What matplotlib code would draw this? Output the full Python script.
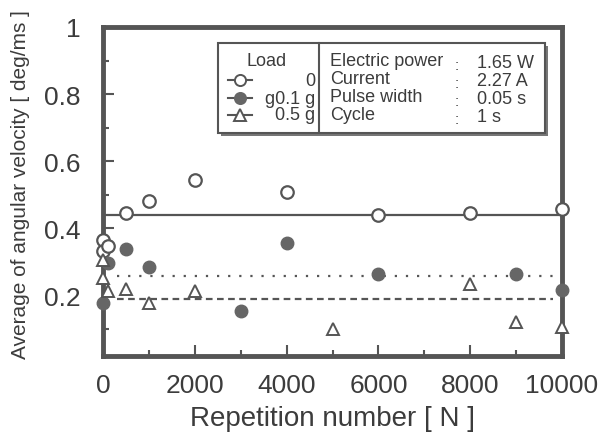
import matplotlib
matplotlib.use("Agg")
import matplotlib.pyplot as plt
from matplotlib.patches import Rectangle
from matplotlib.lines import Line2D
from matplotlib.ticker import MultipleLocator

plt.rcParams['font.family'] = ['Liberation Sans', 'DejaVu Sans']

# Data
n_load0 = [0, 0, 100, 500, 1000, 2000, 4000, 6000, 8000, 10000]
v_load0 = [0.366, 0.332, 0.349, 0.446, 0.483, 0.543, 0.510, 0.439, 0.446, 0.458]

n_load01 = [0, 100, 500, 1000, 3000, 4000, 6000, 9000, 10000]
v_load01 = [0.178, 0.297, 0.338, 0.286, 0.153, 0.358, 0.263, 0.263, 0.216]

n_load05 = [0, 0, 100, 500, 1000, 2000, 5000, 8000, 9000, 10000]
v_load05 = [0.307, 0.253, 0.214, 0.219, 0.178, 0.214, 0.099, 0.234, 0.120, 0.107]

mean_load0 = 0.440
mean_load01 = 0.258
mean_load05 = 0.190
mean_x0 = [0, 10000]
mean_x01 = [300, 9800]
mean_x05 = [300, 9800]

legend_loads = ["0", "g0.1 g", "0.5 g"]
cond_names = ["Electric power", "Current", "Pulse width", "Cycle"]
cond_values = ["1.65 W", "2.27 A", "0.05 s", "1 s"]

GRAY = "#555555"
TXT = "#3c3c3c"

W, H = 603, 439
fig = plt.figure(figsize=(W / 100, H / 100), dpi=100)
ax = fig.add_axes([103 / W, 1 - 357 / H, (562 - 103) / W, (357 - 28) / H])

ax.plot(mean_x0, [mean_load0] * 2, color=GRAY, lw=1.6, zorder=2)
ax.plot(mean_x01, [mean_load01] * 2, color=GRAY, lw=1.6, ls=(0, (1, 4)), zorder=2)
ax.plot(mean_x05, [mean_load05] * 2, color=GRAY, lw=1.6, ls=(0, (3, 2)), zorder=2)

ax.plot(n_load0, v_load0, ls='none', marker='o', ms=9, mfc='white', mec=GRAY, mew=1.6, zorder=3, clip_on=False)
ax.plot(n_load01, v_load01, ls='none', marker='o', ms=9, mfc='#666666', mec='#666666', mew=1.0, zorder=3, clip_on=False)
ax.plot(n_load05, v_load05, ls='none', marker='^', ms=9, mfc='white', mec=GRAY, mew=1.4, zorder=4, clip_on=False)

ax.set_xlim(0, 10000)
ax.set_ylim(0.02, 1.0)
ax.set_xticks([0, 2000, 4000, 6000, 8000, 10000])
ax.set_yticks([0.2, 0.4, 0.6, 0.8, 1.0])
ax.set_yticklabels(["0.2", "0.4", "0.6", "0.8", "1"])
ax.xaxis.set_minor_locator(MultipleLocator(1000))
ax.yaxis.set_minor_locator(MultipleLocator(0.1))
ax.tick_params(which='both', direction='in', color=GRAY, width=1.5, labelsize=19, labelcolor=TXT)
ax.tick_params(which='major', length=8)
ax.tick_params(which='minor', length=4)
ax.tick_params(axis='y', pad=16)
ax.tick_params(axis='x', pad=12)
for s in ax.spines.values():
    s.set_color(GRAY)
    s.set_linewidth(3.5)

ax.set_xlabel("Repetition number [ N ]", fontsize=20, color=TXT, labelpad=6)
ax.set_ylabel("Average of angular velocity [ deg/ms ]", fontsize=15, color=TXT)
ax.yaxis.set_label_coords((30 - 103) / 459, (357 - 185) / 329)

# Legend box (figure pixel coordinates)
def fx(x):
    return x / W

def fy(y):
    return 1 - y / H

fig.add_artist(Rectangle((fx(221), fy(137)), (548 - 221) / W, (137 - 47) / H,
                         transform=fig.transFigure, facecolor='#777777', edgecolor='none', zorder=5))
fig.add_artist(Rectangle((fx(218), fy(134)), (545 - 218) / W, (134 - 44) / H,
                         transform=fig.transFigure, facecolor='white', edgecolor=GRAY, lw=1.5, zorder=6))
fig.add_artist(Line2D([fx(319), fx(319)], [fy(44), fy(134)], transform=fig.transFigure,
                      color=GRAY, lw=1.5, zorder=7))

fig.text(fx(267), fy(62), "Load", fontsize=13, color=TXT, ha='center', va='center', zorder=8)
row_y = [81, 99, 116]
styles = [dict(marker='o', mfc='white', mec=GRAY), dict(marker='o', mfc='#666666', mec='#666666'),
          dict(marker='^', mfc='white', mec=GRAY)]
for yy, lab, st in zip(row_y, legend_loads, styles):
    fig.add_artist(Line2D([fx(228), fx(240), fx(252)], [fy(yy)] * 3, transform=fig.transFigure,
                          color=GRAY, lw=1.5, ms=8, mew=1.4, markevery=[1], zorder=8, **st))
    fig.text(fx(315), fy(yy), lab, fontsize=13, color=TXT, ha='right', va='center', zorder=8)

for i, (nm, val) in enumerate(zip(cond_names, cond_values)):
    yy = 62 + i * 18
    fig.text(fx(330), fy(yy), nm, fontsize=13, color=TXT, ha='left', va='center', zorder=8)
    fig.text(fx(457), fy(yy + 4), ":", fontsize=11, color=TXT, ha='center', va='center', zorder=8)
    fig.text(fx(477), fy(yy + 2), val, fontsize=13, color=TXT, ha='left', va='center', zorder=8)

fig.savefig("out.png", dpi=100)
